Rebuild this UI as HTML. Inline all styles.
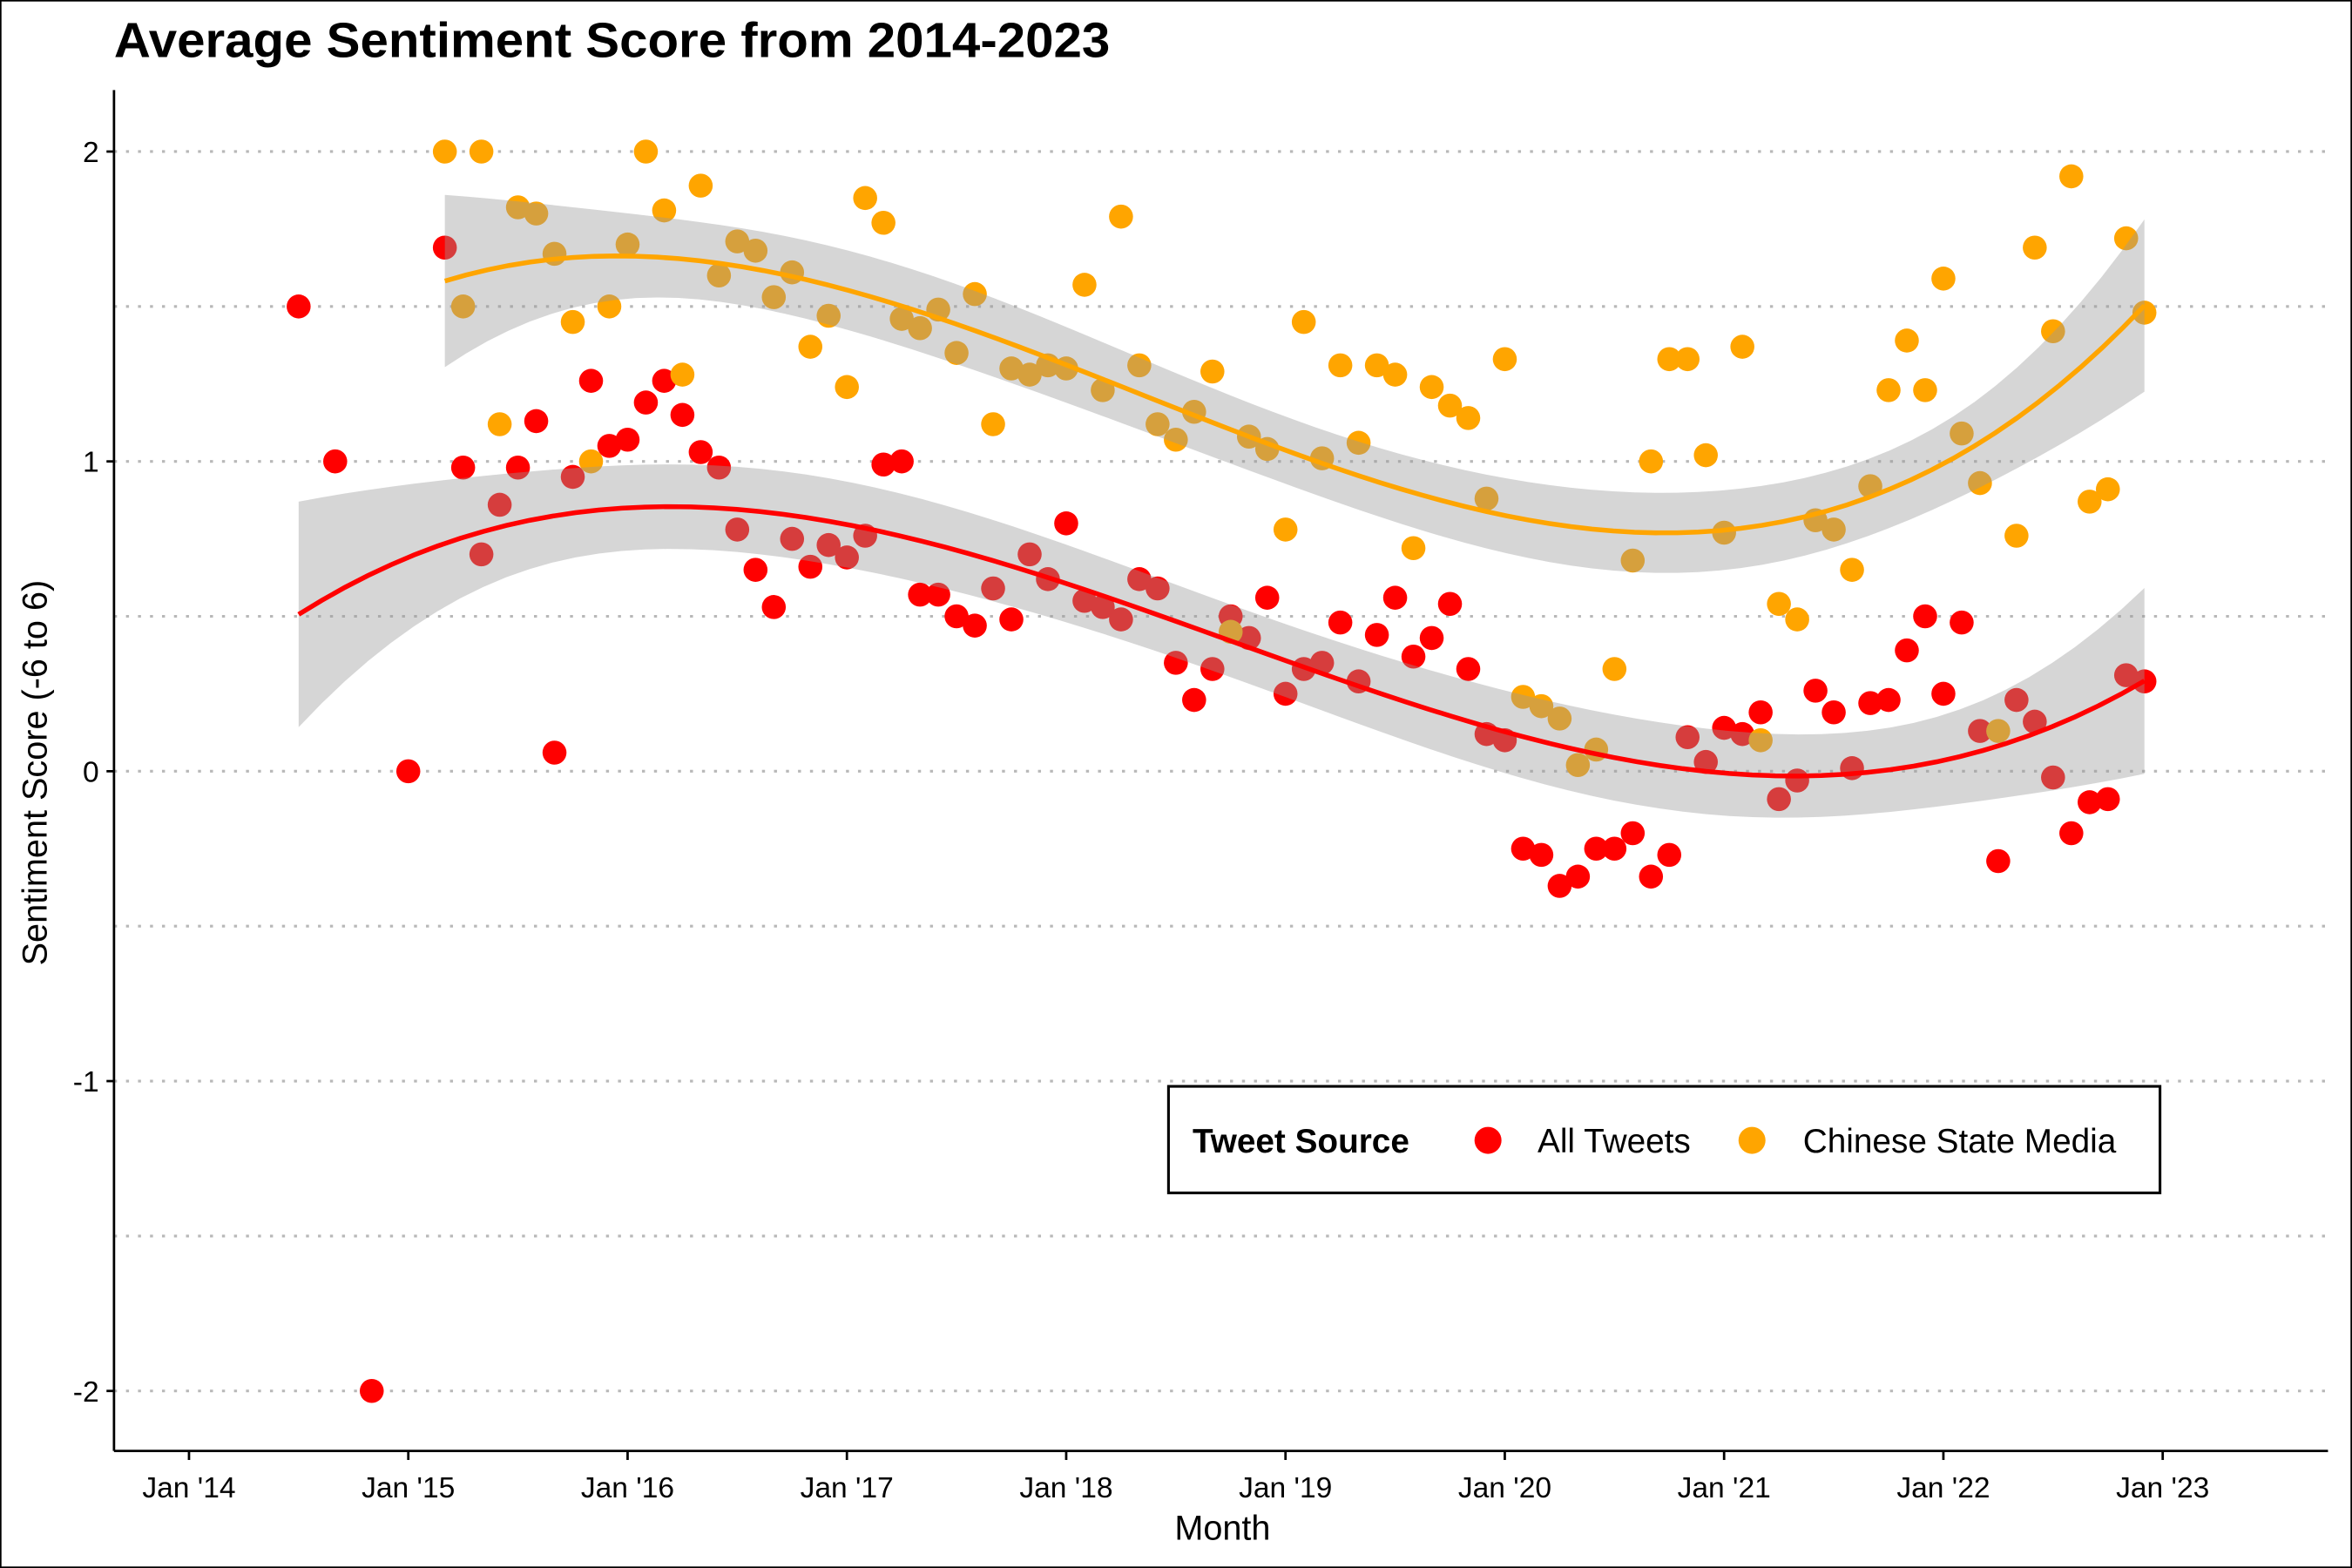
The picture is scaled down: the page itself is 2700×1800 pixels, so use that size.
<!DOCTYPE html>
<html><head><meta charset="utf-8">
<style>
html,body{margin:0;padding:0;background:#fff;}
svg{display:block;font-family:"Liberation Sans",Arial,sans-serif;}
</style></head>
<body>
<svg id="chart" width="2700" height="1800" viewBox="0 0 1568 1045" preserveAspectRatio="none" xmlns="http://www.w3.org/2000/svg">
<rect x="0.5" y="0.5" width="1567" height="1044" fill="#fff" stroke="#000" stroke-width="1"/>
<text x="76" y="38" font-size="33" font-weight="bold" textLength="664" lengthAdjust="spacingAndGlyphs">Average Sentiment Score from 2014-2023</text>
<g id="grid"></g>
<g id="pts"></g>
<g id="fits"></g>
<line x1="76" y1="60" x2="76" y2="967" stroke="#000" stroke-width="1.6"/>
<line x1="76" y1="967" x2="1552" y2="967" stroke="#000" stroke-width="1.6"/>
<g id="yt"></g>
<g id="xt"></g>
<text x="815" y="1026" font-size="23" text-anchor="middle">Month</text>
<text transform="translate(31,515) rotate(-90)" font-size="23" text-anchor="middle">Sentiment Score (-6 to 6)</text>
<g>
<rect x="779" y="724" width="661" height="71" fill="#fff" stroke="#000" stroke-width="1.8"/>
<text x="795" y="768" font-size="22.5" font-weight="bold">Tweet Source</text>
<circle cx="992" cy="760" r="9" fill="#ff0000"/>
<text x="1025" y="768" font-size="22.5">All Tweets</text>
<circle cx="1168" cy="760" r="9" fill="#ffa500"/>
<text x="1202" y="768" font-size="22.5">Chinese State Media</text>
</g>
</svg>
<script>
const yTicks = [2, 1, 0, -1, -2];
const yTickLabels = ["2", "1", "0", "-1", "-2"];
const gridValues = [2, 1.5, 1, 0.5, 0, -0.5, -1, -1.5, -2];
const xTickYears = [2014, 2015, 2016, 2017, 2018, 2019, 2020, 2021, 2022, 2023];
const xTickLabels = ["Jan '14","Jan '15","Jan '16","Jan '17","Jan '18","Jan '19","Jan '20","Jan '21","Jan '22","Jan '23"];
// All Tweets: months since Jan 2014 starting at Jul 2014 (index 6)
const allStart = 6;
const allTweets = [1.5,null,1.0,null,-2.0,null,0,null,1.69,0.98,0.70,0.86,0.98,1.13,0.06,0.95,1.26,1.05,1.07,1.19,1.26,1.15,1.03,0.98,0.78,0.65,0.53,0.75,0.66,0.73,0.69,0.76,0.99,1.00,0.57,0.57,0.50,0.47,0.59,0.49,0.70,0.62,0.80,0.55,0.53,0.49,0.62,0.59,0.35,0.23,0.33,0.50,0.43,0.56,0.25,0.33,0.35,0.48,0.29,0.44,0.56,0.37,0.43,0.54,0.33,0.12,0.10,-0.25,-0.27,-0.37,-0.34,-0.25,-0.25,-0.20,-0.34,-0.27,0.11,0.03,0.14,0.12,0.19,-0.09,-0.03,0.26,0.19,0.01,0.22,0.23,0.39,0.50,0.25,0.48,0.13,-0.29,0.23,0.16,-0.02,-0.20,-0.10,-0.09,0.31,0.29];
// Chinese State Media: starting Mar 2015 (index 14)
const stateStart = 14;
const stateMedia = [2.0,1.50,2.0,1.12,1.82,1.80,1.67,1.45,1.0,1.50,1.70,2.0,1.81,1.28,1.89,1.60,1.71,1.68,1.53,1.61,1.37,1.47,1.24,1.85,1.77,1.46,1.43,1.49,1.35,1.54,1.12,1.30,1.28,1.31,1.30,1.57,1.23,1.79,1.31,1.12,1.07,1.16,1.29,0.45,1.08,1.04,0.78,1.45,1.01,1.31,1.06,1.31,1.28,0.72,1.24,1.18,1.14,0.88,1.33,0.24,0.21,0.17,0.02,0.07,0.33,0.68,1.00,1.33,1.33,1.02,0.77,1.37,0.10,0.54,0.49,0.81,0.78,0.65,0.92,1.23,1.39,1.23,1.59,1.09,0.93,0.13,0.76,1.69,1.42,1.92,0.87,0.91,1.72,1.48];

const NS = "http://www.w3.org/2000/svg";
const X0 = 126, PX_PER_MONTH = 146.2/12;
const Y0 = 514, PX_PER_UNIT = 206.5;
function xScale(m){ return X0 + m*PX_PER_MONTH; }
function yScale(v){ return Y0 - v*PX_PER_UNIT; }
function mk(tag, attrs, parent){ const e=document.createElementNS(NS,tag); for(const k in attrs) e.setAttribute(k,attrs[k]); parent.appendChild(e); return e; }

const grid=document.getElementById('grid');
gridValues.forEach(v=>{
  const l=mk('line',{x1:76,x2:1552,y1:yScale(v),y2:yScale(v),stroke:'#b8b8b8','stroke-width':1.8,'stroke-dasharray':'2 6'},grid);
  
  
});
const yt=document.getElementById('yt');
yTicks.forEach((v,i)=>{
  const t=mk('line',{x1:71,x2:76,y1:yScale(v),y2:yScale(v),stroke:'#000','stroke-width':1.6},yt);
  
  
  const tx=mk('text',{x:66,y:yScale(v)+7,'font-size':19.5,'text-anchor':'end'},yt);
  tx.textContent=yTickLabels[i];
  
  
});
const xt=document.getElementById('xt');
xTickYears.forEach((yr,i)=>{
  const x=xScale((yr-2014)*12);
  const t=mk('line',{x1:x,x2:x,y1:967,y2:973,stroke:'#000','stroke-width':1.6},xt);
  
  
  const tx=mk('text',{x:x,y:998,'font-size':19.5,'text-anchor':'middle'},xt);
  tx.textContent=xTickLabels[i];
  
  
});

function series(start, vals){ const xs=[],ys=[]; vals.forEach((v,i)=>{ if(v!==null){xs.push(start+i); ys.push(v);} }); return {xs,ys}; }
const A=series(allStart,allTweets), S=series(stateStart,stateMedia);

const pts=document.getElementById('pts');
function drawPts(s,color,name){
  s.xs.forEach((m,i)=>{
    const c=mk('circle',{cx:xScale(m),cy:yScale(s.ys[i]),r:8,fill:color},pts);
    
    
  });
}
drawPts(A,'#ff0000','point-all-tweets');
drawPts(S,'#ffa500','point-state-media');

// cubic least squares with confidence band
function fit(s){
  const n=s.xs.length, c=57, sc=50;
  const X=s.xs.map(m=>{const t=(m-c)/sc; return [1,t,t*t,t*t*t];});
  const XtX=[[0,0,0,0],[0,0,0,0],[0,0,0,0],[0,0,0,0]], Xty=[0,0,0,0];
  for(let i=0;i<n;i++) for(let a=0;a<4;a++){ Xty[a]+=X[i][a]*s.ys[i]; for(let b=0;b<4;b++) XtX[a][b]+=X[i][a]*X[i][b]; }
  const M=XtX.map((r,i)=>r.concat([0,1,2,3].map(j=>i===j?1:0)));
  for(let i=0;i<4;i++){ let p=i; for(let r=i+1;r<4;r++) if(Math.abs(M[r][i])>Math.abs(M[p][i])) p=r; [M[i],M[p]]=[M[p],M[i]];
    const d=M[i][i]; for(let j=0;j<8;j++) M[i][j]/=d;
    for(let r=0;r<4;r++) if(r!==i){ const f=M[r][i]; for(let j=0;j<8;j++) M[r][j]-=f*M[i][j]; } }
  const inv=M.map(r=>r.slice(4));
  const beta=inv.map(r=>r.reduce((acc,v,j)=>acc+v*Xty[j],0));
  let rss=0; for(let i=0;i<n;i++){ const f=X[i].reduce((a,v,j)=>a+v*beta[j],0); rss+=(s.ys[i]-f)**2; }
  const s2=rss/(n-4);
  const lo=Math.min(...s.xs), hi=Math.max(...s.xs), out=[];
  for(let k=0;k<=80;k++){ const m=lo+(hi-lo)*k/80, t=(m-c)/sc, v=[1,t,t*t,t*t*t];
    const f=v.reduce((a,x,j)=>a+x*beta[j],0);
    let q=0; for(let a=0;a<4;a++) for(let b=0;b<4;b++) q+=v[a]*inv[a][b]*v[b];
    const se=Math.sqrt(s2*q)*1.98; out.push([m,f,f-se,f+se]); }
  return out;
}
const fits=document.getElementById('fits');
function drawFit(s,color,name){
  const f=fit(s);
  const up=f.map(p=>xScale(p[0])+','+yScale(p[3])).join(' ');
  const dn=f.slice().reverse().map(p=>xScale(p[0])+','+yScale(p[2])).join(' ');
  const band=mk('polygon',{points:up+' '+dn,fill:'#999999','fill-opacity':0.4},fits);
  
  
  const line=mk('polyline',{points:f.map(p=>xScale(p[0])+','+yScale(p[1])).join(' '),fill:'none',stroke:color,'stroke-width':3.2},fits);
  
  
}
drawFit(A,'#ff0000','all-tweets');
drawFit(S,'#ffa500','state-media');
</script>
</body></html>
